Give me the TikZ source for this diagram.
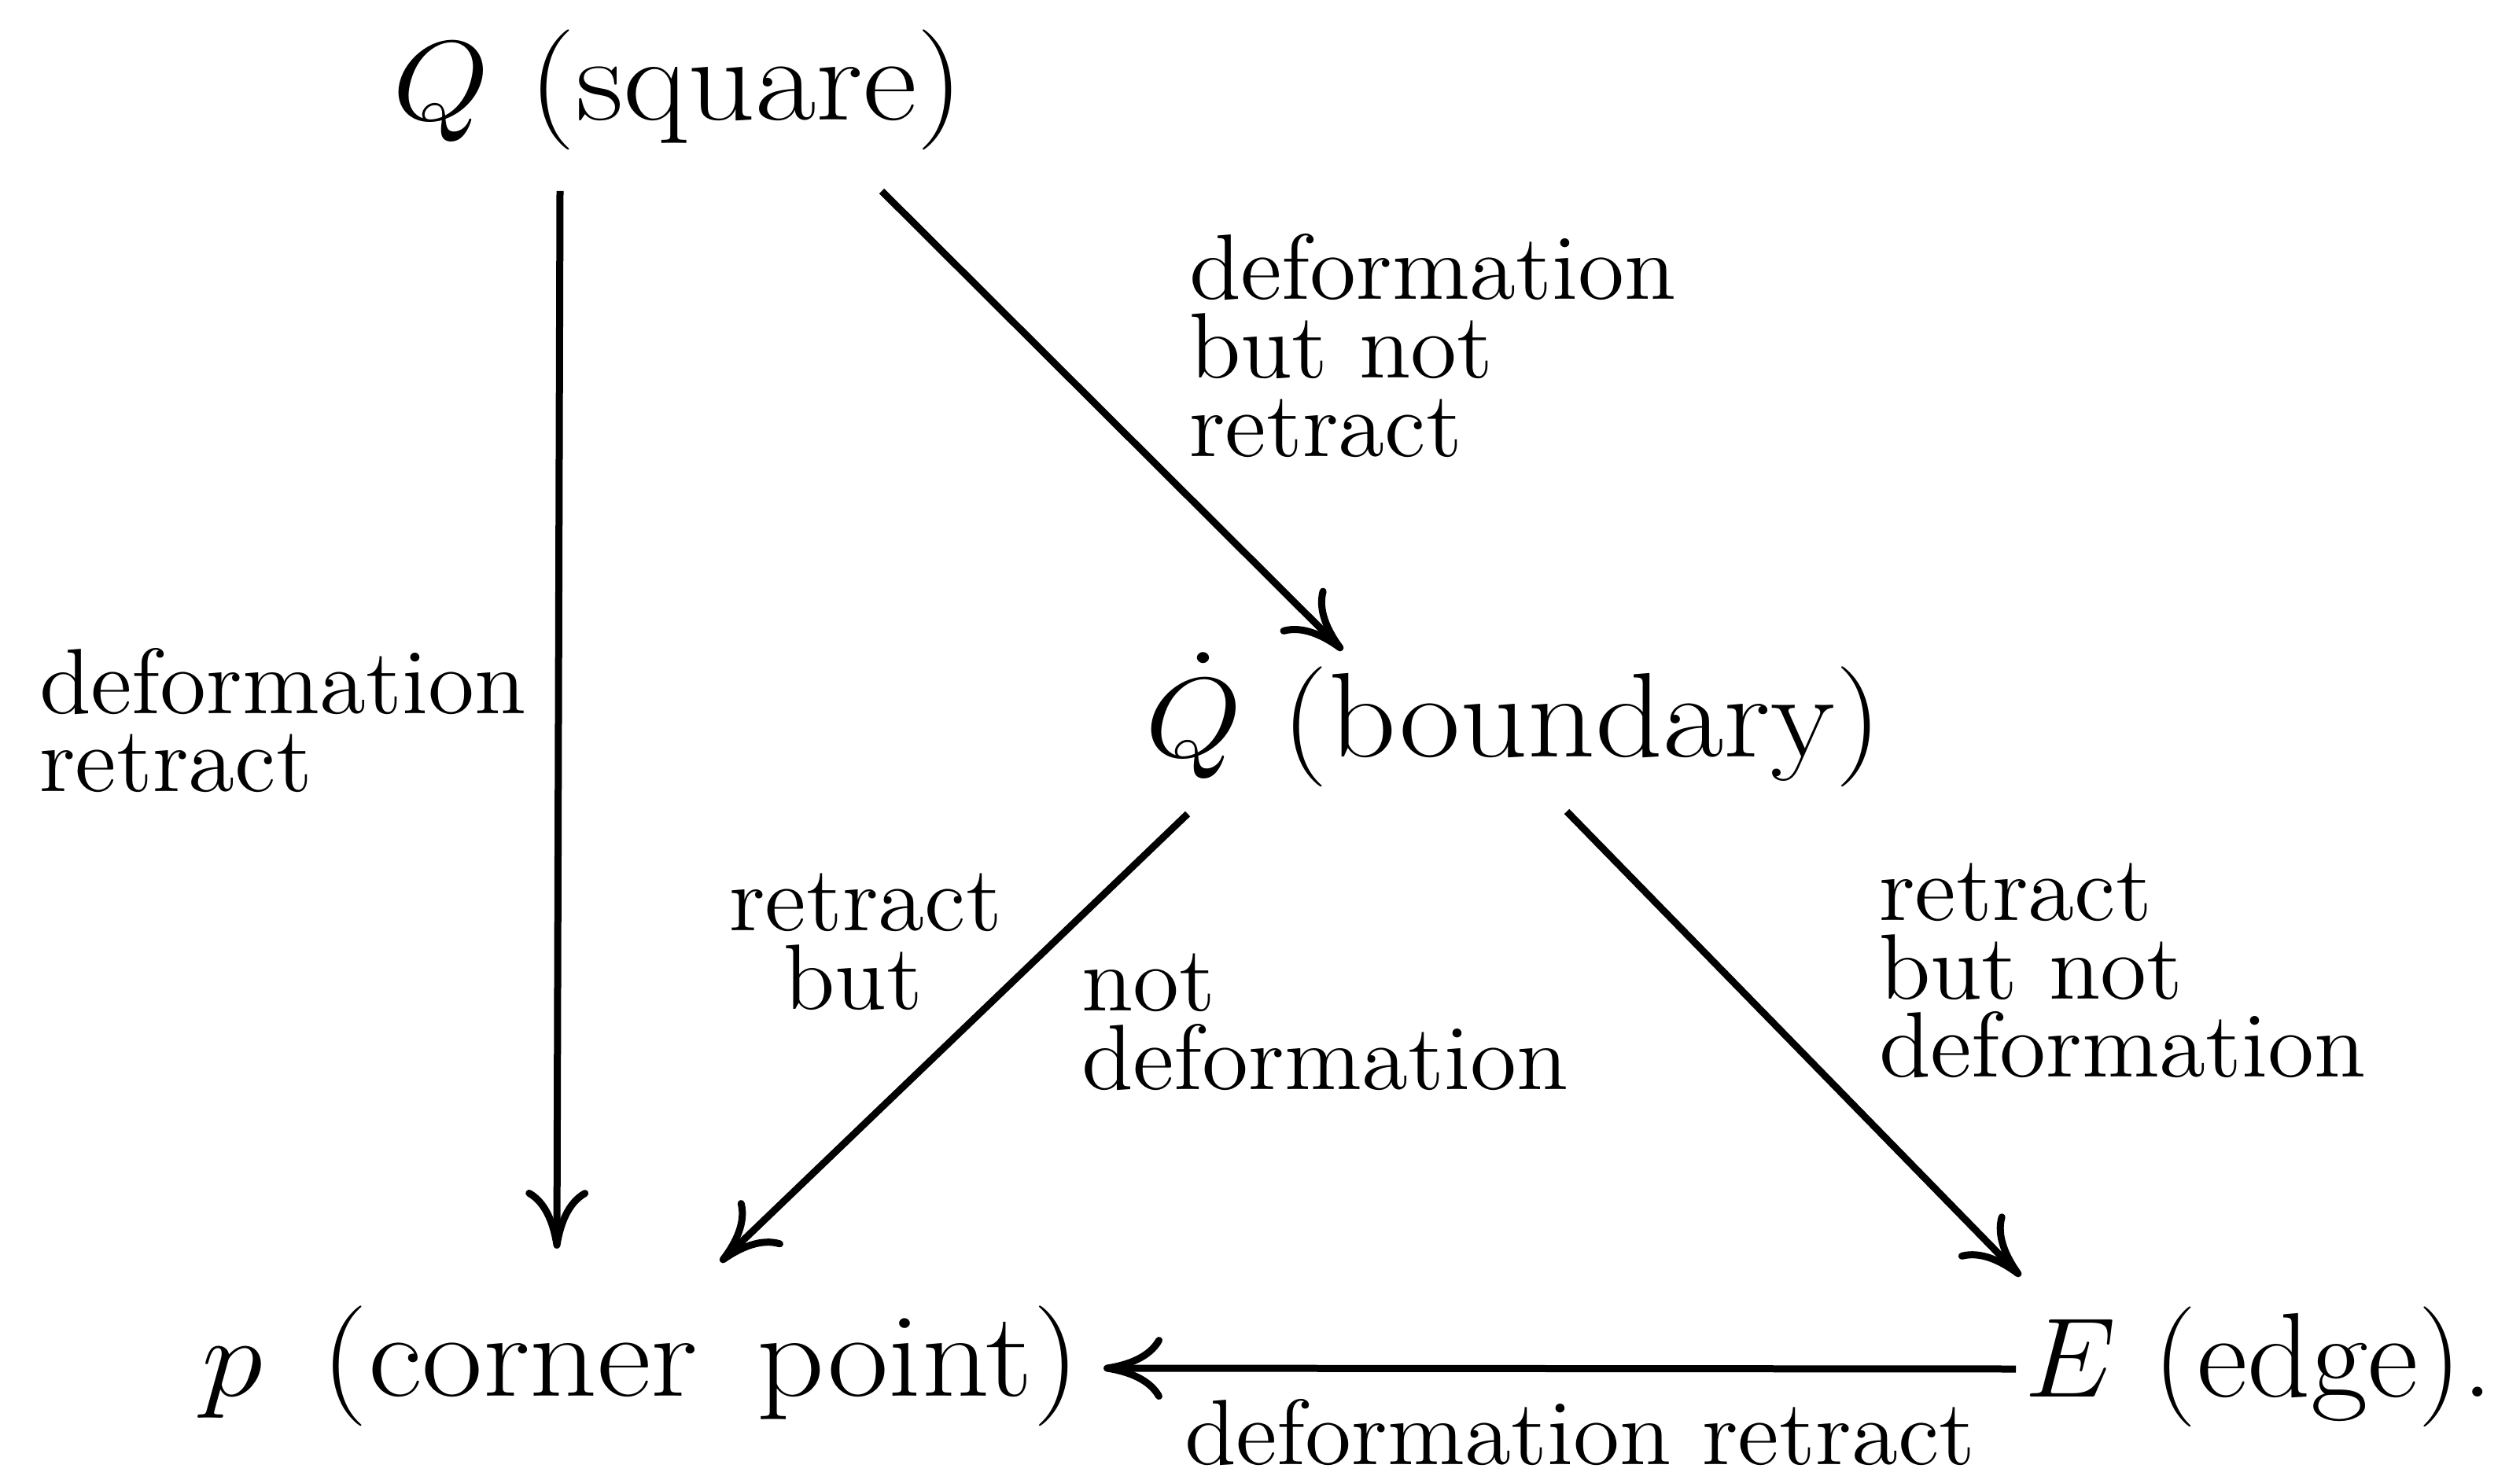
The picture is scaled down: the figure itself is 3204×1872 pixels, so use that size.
\documentclass[tikz,border=0pt]{standalone}
\usepackage{graphicx}
\usetikzlibrary{arrows.meta,calc}
\tikzset{
  big/.style={font=\fontsize{15.3}{18}\selectfont, inner sep=0pt, anchor=base west},
  lbl/.style={font=\fontsize{11.8}{10}\selectfont, inner sep=0pt, anchor=base west},
  arr/.style={line width=0.9pt, -{Computer Modern Rightarrow[length=7.5pt,width=8pt]}}
}
\newcommand\stk[1]{\vtop{\baselineskip=10pt\lineskiplimit=-5pt #1}}
\newcommand\widen[2]{\scalebox{#1}[1]{#2}}
\begin{document}
\begin{tikzpicture}[x=0.1pt,y=-0.1pt]
\useasboundingbox (0,0) rectangle (3204,1872);
% main nodes
\node[big] (Q)  at (497,153)  {\widen{1.10}{$Q$ (square)}};
\node[big] (Qd) at (1454,962) {\widen{1.10}{$\dot Q$ (boundary)}};
\node[big] (p)  at (254,1775) {\widen{1.10}{$p$\hspace{2.2pt} (corner\hspace{2.2pt} point)}};
\node[big] (E)  at (2572,1776) {\widen{1.03}{$E$ (edge).}};
% connectors
\draw[arr] ($(Q.base west)+(215,90)$) -- ($(p.base west)+(454,-187)$);
\draw[arr] ($(Q.base west)+(624,90)$) -- ($(Qd.base west)+(253,-135)$);
\draw[arr] ($(Qd.base west)+(56,73)$) -- ($(p.base west)+(662,-170)$);
\draw[arr] ($(Qd.base west)+(538,70)$) -- ($(E.base west)+(-3,-153)$);
\draw[arr] ($(E.base west)+(-9,-35)$) -- ($(p.base west)+(1149,-35)$);
% labels
\node[lbl] (l1) at (1510,381) {\widen{1.02}{\stk{\hbox{deformation}\hbox{but not}\hbox{retract}}}};
\node[lbl] (l2) at (48,907) {\widen{1.02}{\stk{\hbox{deformation}\hbox{retract}}}};
\node[lbl] (l3) at (925,1183) {\widen{1.02}{\stk{\hbox{retract}\hbox{\hspace*{6.8pt}but}}}};
\node[lbl] (l4) at (1373,1285) {\widen{1.02}{\stk{\hbox{not}\hbox{deformation}}}};
\node[lbl] (l5) at (2387,1170) {\widen{1.02}{\stk{\hbox{retract}\hbox{but not}\hbox{deformation}}}};
\node[lbl] (l6) at (1504,1862) {\widen{1.02}{deformation retract}};
\end{tikzpicture}
\end{document}
